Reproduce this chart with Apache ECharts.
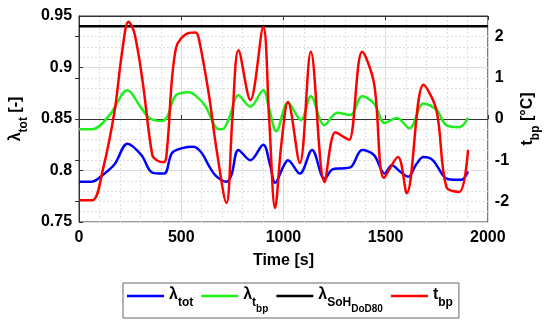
<!DOCTYPE html>
<html><head><meta charset="utf-8">
<script src="https://cdn.jsdelivr.net/npm/echarts@6/dist/echarts.min.js"></script>
<style>html,body{margin:0;padding:0;background:#fff}#c{width:550px;height:325px}</style>
</head><body><div id="c"></div>
<script>
// Time [s] and values
const totT = [0,60,112,174,237,305,358,416,455,510,560,600,634,668,722,746,780,838,901,935,959,1000,1022,1080,1140,1201,1240,1280,1327,1385,1443,1495,1530,1570,1610,1650,1685,1730,1790,1830,1870,1903];
const totV = [0.789,0.789,0.795,0.806,0.826,0.815,0.798,0.797,0.817,0.822,0.823,0.817,0.805,0.795,0.789,0.796,0.820,0.810,0.825,0.805,0.788,0.804,0.810,0.797,0.820,0.792,0.801,0.802,0.803,0.820,0.815,0.797,0.805,0.799,0.794,0.806,0.813,0.810,0.793,0.791,0.791,0.799];
const tbpLamT = [0,65,150,237,300,344,407,431,474,538,580,620,673,700,731,780,838,901,930,965,1022,1085,1134,1200,1264,1327,1385,1443,1496,1554,1617,1685,1748,1797,1860,1903];
const tbpLamV = [0.840,0.840,0.854,0.878,0.862,0.851,0.848,0.852,0.873,0.876,0.871,0.862,0.841,0.840,0.849,0.873,0.862,0.878,0.860,0.838,0.866,0.849,0.872,0.844,0.856,0.854,0.872,0.865,0.846,0.851,0.841,0.865,0.859,0.844,0.842,0.851];
const sohT = [0,2000];
const sohV = [0.94,0.94];
const tbpT = [0,65,116,174,210,242,270,310,358,380,416,431,474,538,570,586,634,673,721,750,780,838,901,930,959,990,1022,1080,1134,1201,1254,1300,1322,1385,1443,1492,1560,1603,1685,1748,1797,1860,1903];
const tbpV = [-1.97,-1.97,-1.24,0.2,1.6,2.36,2.1,0.95,-0.87,-1.0,-1.05,-0.7,1.72,2.09,2.1,1.95,0.63,-0.75,-2.04,0.0,1.67,0.46,2.23,0.0,-2.16,-0.6,0.41,-1.07,1.63,-1.53,-0.32,-0.45,-0.51,1.63,0.87,-1.43,-0.92,-1.8,0.83,0.22,-1.65,-1.77,-0.75];
const xTicks = [0,500,1000,1500,2000];
const rightTicks = [-2,-1,0,1,2];

const zip = (a,b)=>a.map((t,i)=>[t,b[i]]);
const FF = "'Liberation Sans', Arial, sans-serif";
const base = {fontFamily:FF,fontWeight:'bold',color:'#000',verticalAlign:'top'};
const rich = {
  m:{...base,fontSize:16,lineHeight:18},
  s:{...base,fontSize:12,lineHeight:12,padding:[10,0,0,0]},
  ss:{...base,fontSize:10,lineHeight:10,padding:[17,0,0,0]}
};
const legendLabels = {
  'tot':'{m|λ}{s|tot}',
  'tbpLam':'{m|λ}{s|t}{ss|bp}',
  'soh':'{m|λ}{s|SoH}{ss|DoD80}',
  'tbp':'{m|t}{s|bp}'
};
const chart = echarts.init(document.getElementById('c'),null,{renderer:'canvas'});
const axisTxt = {color:'#000',fontWeight:'bold',fontSize:16,fontFamily:FF};
const line = (name,data,color,yi,z)=>({name,type:'line',data,yAxisIndex:yi,symbol:'none',smooth:0.35,
  lineStyle:{color,width:2.5},itemStyle:{color},z:z,animation:false});
chart.setOption({
  animation:false,
  grid:{left:79,right:58,top:16,bottom:103,show:true,borderColor:'#333',borderWidth:1,backgroundColor:'#fff'},
  legend:{left:123,top:283,orient:'horizontal',icon:'rect',itemWidth:37,itemHeight:2.5,itemGap:8,padding:[4,6,4,4],
    borderColor:'#666',borderWidth:1,
    data:['tot','tbpLam','soh','tbp'],
    formatter:n=>legendLabels[n],
    textStyle:{rich,fontFamily:FF}},
  xAxis:[{type:'value',min:0,max:2000,interval:500,
    name:'Time [s]',nameLocation:'middle',nameGap:31,nameTextStyle:axisTxt,
    axisLine:{lineStyle:{color:'#333'}},axisTick:{inside:true,length:4,lineStyle:{color:'#333'}},
    axisLabel:{...axisTxt,margin:8,formatter:v=>String(v)},
    splitLine:{show:true,lineStyle:{color:'#dcdcdc',width:1}},
    minorTick:{show:false,splitNumber:5},
    minorSplitLine:{show:true,lineStyle:{color:'#dedede',type:[2,2],width:1}}},
   {type:'value',position:'top',min:0,max:2000,interval:500,axisLine:{show:true,lineStyle:{color:'#333'}},
    axisTick:{inside:true,length:4,lineStyle:{color:'#333'}},axisLabel:{show:false},splitLine:{show:false}}],
  yAxis:[{type:'value',min:0.75,max:0.95,interval:0.05,position:'left',
    name:'{m|λ}{s|tot}{m| [-]}',nameLocation:'middle',nameGap:40,nameRotate:90,
    nameTextStyle:{rich},
    axisLine:{show:true,lineStyle:{color:'#333'}},axisTick:{show:true,inside:true,length:4,lineStyle:{color:'#333'}},
    axisLabel:{...axisTxt,margin:7},
    splitLine:{show:true,lineStyle:{color:'#dcdcdc',width:1}},
    minorTick:{show:false,splitNumber:5},
    minorSplitLine:{show:true,lineStyle:{color:'#dedede',type:[2,2],width:1}}},
   {type:'value',min:-2.5,max:2.5,position:'right',
    name:'{m|t}{s|bp}{m| [°C]}',nameLocation:'middle',nameGap:26,nameRotate:90,
    nameTextStyle:{rich},
    axisLine:{show:true,lineStyle:{color:'#333'}},
    axisTick:{show:true,inside:true,length:4,customValues:rightTicks,lineStyle:{color:'#333'}},
    axisLabel:{...axisTxt,margin:7,customValues:rightTicks},
    splitLine:{show:false}}],
  series:[
    line('tot',zip(totT,totV),'#0000ff',0,3),
    line('tbpLam',zip(tbpLamT,tbpLamV),'#1fef1f',0,4),
    line('soh',zip(sohT,sohV),'#000000',0,5),
    line('tbp',zip(tbpT,tbpV),'#ff0000',1,6)
  ]
});
</script></body></html>
